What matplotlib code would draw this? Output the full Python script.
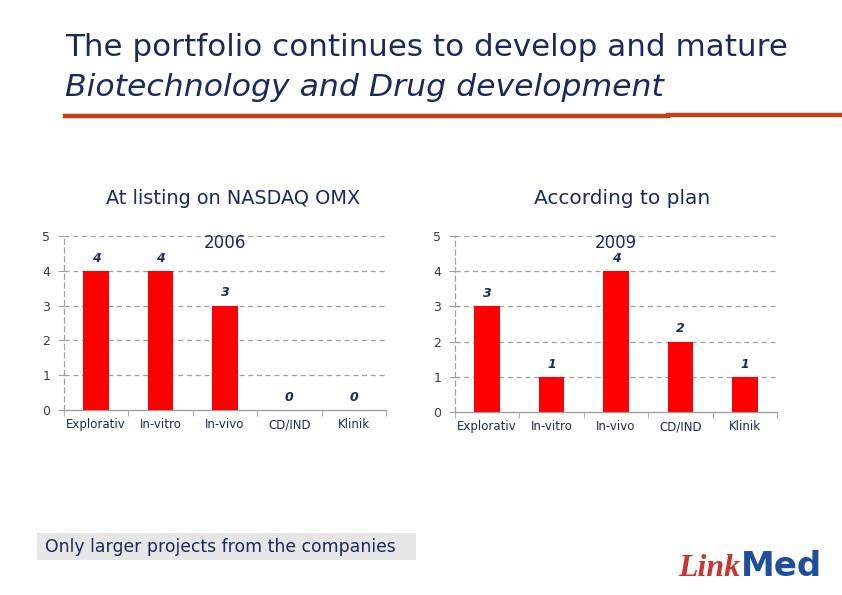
import matplotlib
matplotlib.use("Agg")
import matplotlib.pyplot as plt
from matplotlib.lines import Line2D
from matplotlib.patches import Rectangle

categories = ["Explorativ", "In-vitro", "In-vivo", "CD/IND", "Klinik"]
values_2006 = [4, 4, 3, 0, 0]
values_2009 = [3, 1, 4, 2, 1]
yticks = [0, 1, 2, 3, 4, 5]

NAVY = "#1b2a5c"
RED = "#ff0000"
GRID = "#a0a0a0"

plt.rcParams['font.family'] = ['DejaVu Sans']

fig = plt.figure(figsize=(8.42, 5.95), dpi=100)
W, H = 842, 595
renderer = fig.canvas.get_renderer()


def fx(px):
    return px / W


def fy(py):
    return 1 - py / H


def fit(t, target_px):
    w = t.get_window_extent(renderer=renderer).width
    if w > 0:
        t.set_fontsize(t.get_fontsize() * target_px / w)
    return t


# Titles
fit(fig.text(fx(65), fy(48), "The portfolio continues to develop and mature",
             fontsize=20, color=NAVY, va="center", ha="left"), 723)
fit(fig.text(fx(65), fy(88), "Biotechnology and Drug development",
             fontsize=20, color=NAVY, va="center", ha="left", style="italic"), 598)
fig.add_artist(Line2D([fx(65), fx(668)], [fy(116), fy(116)], color="#c2401a", lw=3.2))
fig.add_artist(Line2D([fx(668), fx(842)], [fy(115), fy(115)], color="#c2401a", lw=3.2))

fit(fig.text(fx(233), fy(199), "At listing on NASDAQ OMX", fontsize=13, color=NAVY,
             ha="center", va="center"), 254)
fit(fig.text(fx(622), fy(199), "According to plan", fontsize=13, color=NAVY,
             ha="center", va="center"), 176)


def draw(ax, vals, year):
    x = list(range(len(categories)))
    ax.bar(x, vals, width=0.40, color=RED, zorder=3)
    for xi, v in zip(x, vals):
        ax.annotate(str(v), (xi, v), xytext=(0, 9.2), textcoords="offset points",
                    ha="center", va="center", fontsize=9, fontweight="bold",
                    style="italic", color=NAVY, zorder=4)
    ax.set_xlim(-0.5, len(categories) - 0.5)
    ax.set_ylim(0, 5)
    ax.set_yticks(yticks)
    ax.set_yticklabels([str(t) for t in yticks], fontsize=9, color="#3a3a4a")
    ax.set_xticks(x)
    ax.set_xticklabels(categories, fontsize=8.5, color=NAVY)
    ax.tick_params(axis="x", length=0, pad=6)
    ax.set_xticks([i - 0.5 for i in range(len(categories) + 1)], minor=True)
    ax.tick_params(axis="x", which="minor", length=4, color=GRID, direction="out")
    ax.tick_params(axis="y", length=4, color=GRID, pad=6)
    for t in yticks[1:]:
        ax.axhline(t, color=GRID, lw=0.9, ls=(0, (4, 3)), zorder=1)
    for s in ["top", "right"]:
        ax.spines[s].set_visible(False)
    ax.spines["left"].set_color(GRID)
    ax.spines["left"].set_linestyle((0, (4, 3)))
    ax.spines["left"].set_linewidth(0.9)
    ax.spines["bottom"].set_color(GRID)
    ax.spines["bottom"].set_linewidth(1.0)
    fit(ax.text(0.5, 0.96, year, transform=ax.transAxes, ha="center", va="center",
                fontsize=13, color=NAVY), 42)


ax1 = fig.add_axes([fx(64), fy(410), 322 / W, 174 / H])
draw(ax1, values_2006, "2006")
ax2 = fig.add_axes([fx(455), fy(412), 322 / W, 176 / H])
draw(ax2, values_2009, "2009")

# Footnote box
fig.add_artist(Rectangle((fx(37), fy(560)), 379 / W, 27 / H, facecolor="#e6e6e6",
                         edgecolor="none", transform=fig.transFigure))
fit(fig.text(fx(45), fy(547), "Only larger projects from the companies", fontsize=13,
             color=NAVY, ha="left", va="center"), 349)

# Logo
fit(fig.text(fx(678), fy(568), "Link", fontsize=22, color="#cc3333",
             family=["Liberation Serif"], style="italic", fontweight="bold",
             ha="left", va="center"), 62)
fit(fig.text(fx(741), fy(567), "Med", fontsize=22, color="#1f4e9a",
             family=["DejaVu Sans"], fontweight="bold", ha="left", va="center"), 81)

fig.savefig("out.png", dpi=100)
